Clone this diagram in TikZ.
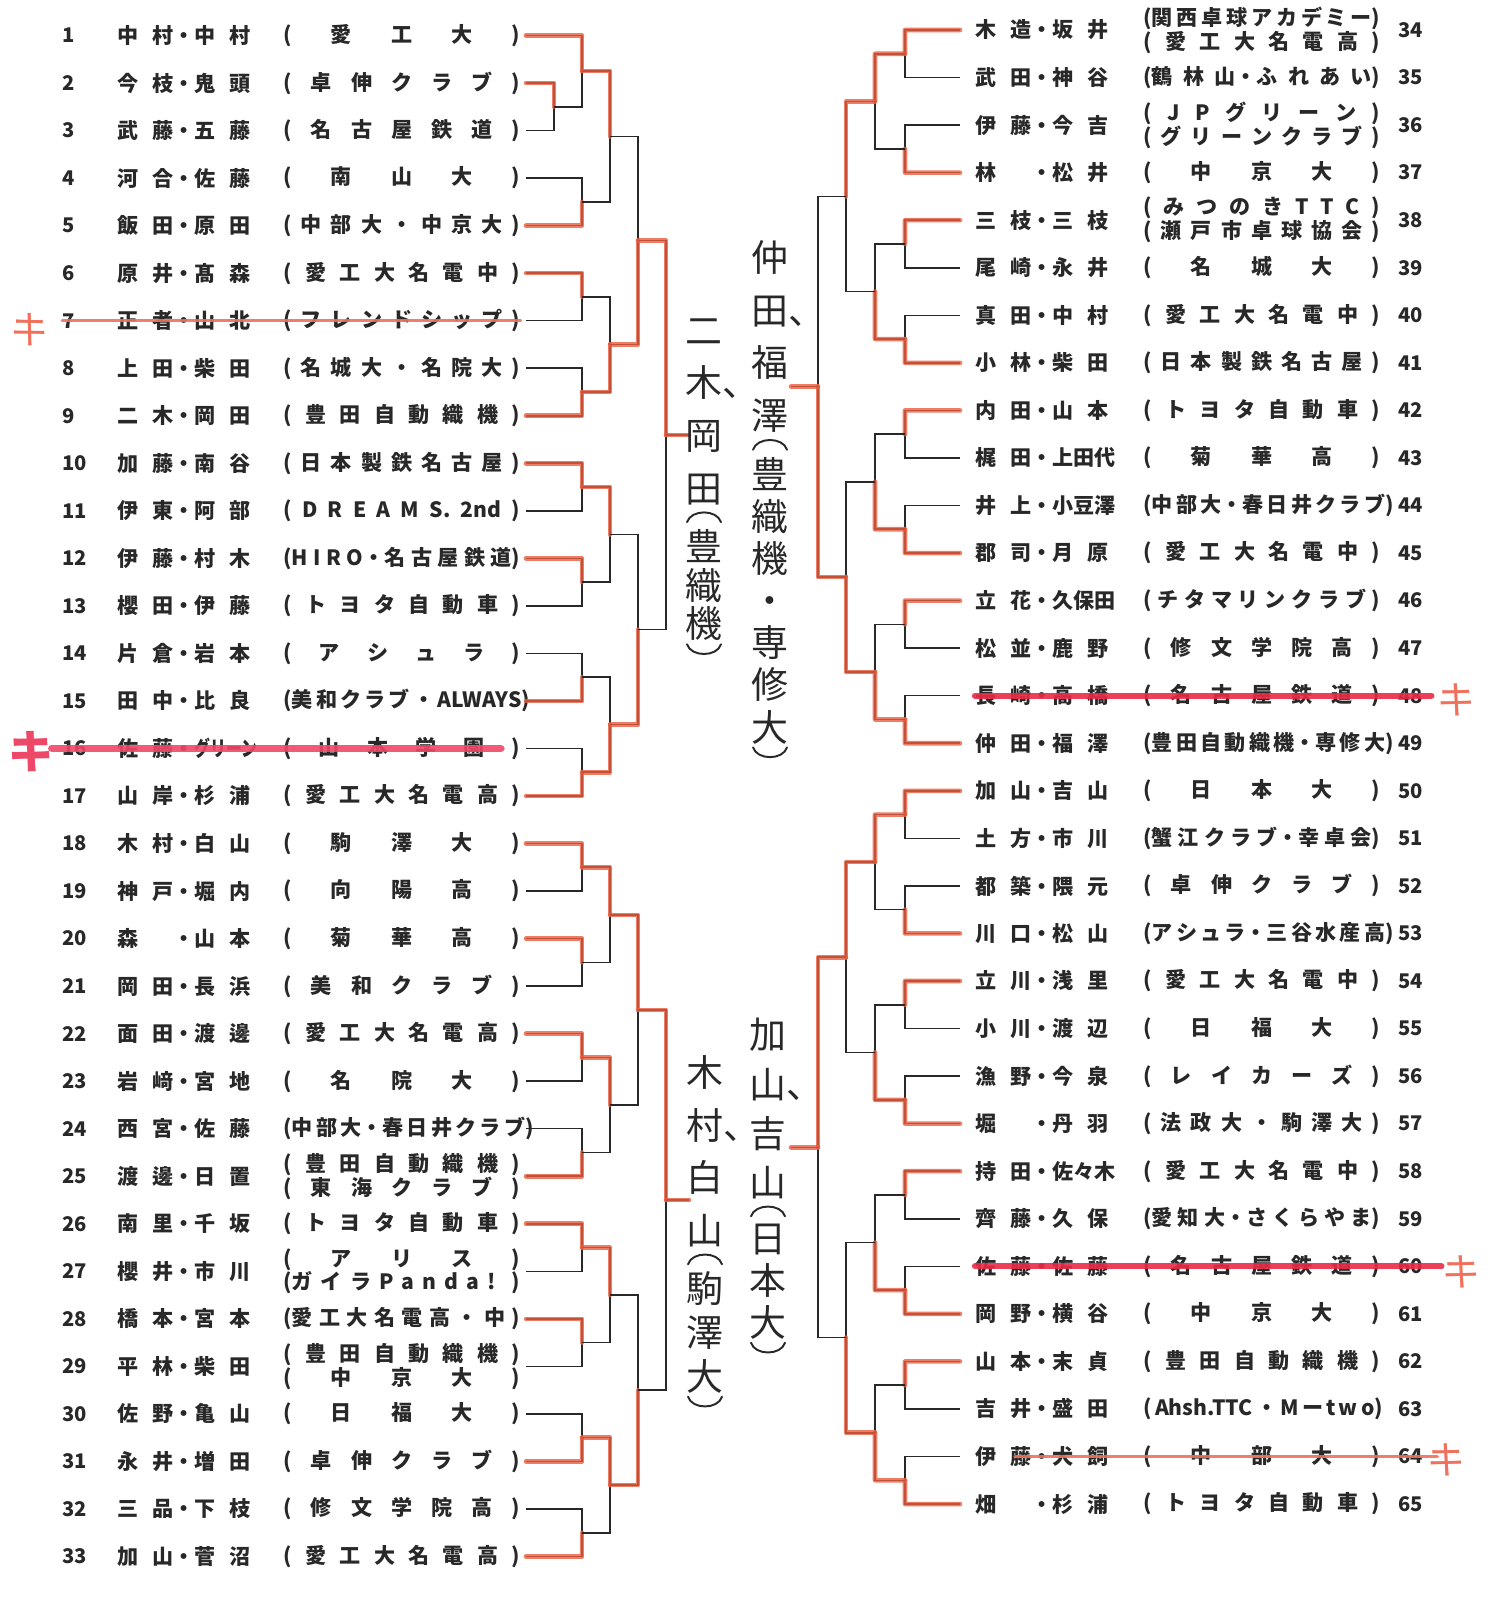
\documentclass[tikz,border=0pt]{standalone}
\usepackage{fontspec}
\setmainfont{Noto Sans CJK JP}
\newfontfamily\handfont{Noto Sans CJK JP}
\usepackage{graphicx}
\usetikzlibrary{calc}
\definecolor{inkGray}{RGB}{40,40,40}
\definecolor{markerRed}{RGB}{232,92,62}
\definecolor{strikeRed}{RGB}{234,42,72}
\definecolor{strikePink}{RGB}{238,72,104}
\definecolor{strikeSalmon}{RGB}{240,112,92}
\newcommand{\duo}[2]{\makebox[1.12cm][s]{#1}・\makebox[1.12cm][s]{#2}}
\newcommand{\club}[1]{\makebox[4.74cm][s]{#1}}
\newcommand{\clubtwo}[2]{\club{#1}\\\club{#2}}
\newcommand{\entryL}[4]{%%
  \pgfmathsetmacro{\ey}{35.5+(#1-1)*47.53}
  \node[numStyle] (num#1) at (62,\ey) {#1};
  \node[nameStyle] (name#1) at (117,\ey) {\duo{#2}{#3}};
  \node[clubStyle] (club#1) at (283,\ey) {#4};
  \coordinate (e#1) at (526,\ey);
}
\newcommand{\entryR}[4]{%%
  \pgfmathsetmacro{\ey}{30+(#1-34)*47.55}
  \node[nameStyle] (name#1) at (975,\ey) {\duo{#2}{#3}};
  \node[clubStyle] (club#1) at (1143,\ey) {#4};
  \node[numStyle] (num#1) at (1398,\ey) {#1};
  \coordinate (e#1) at (960,\ey);
}
\newcommand{\match}[5]{%%
  \draw[lineStyle] (#1) -- (#1 -| #3) -- (#2 -| #3) -- (#2);
  \coordinate (#4) at ($(#1 -| #3)!0.5!(#2 -| #3)$);
  \draw[redStyle] (#5) -- (#5 -| #3) -- (#4);
}
\newcommand{\winner}[7]{%%
  \node[handStyle,anchor=north,font=\handfont\fontsize{21pt}{#6}\selectfont] (#1) at (#2,#3) {#4};
  \node[handStyle,anchor=north,font=\handfont\fontsize{21pt}{#7}\selectfont] (#1club) at ($(#1.south)+(0,24)$) {#5};
  \draw[handLine] ($(#1.south)+(-17,17)$) .. controls +(4,-13) and +(-4,-13) .. ($(#1.south)+(17,17)$);
  \draw[handLine] ($(#1club.south)+(-17,3)$) .. controls +(4,13) and +(-4,13) .. ($(#1club.south)+(17,3)$);
}

\begin{document}
\begin{tikzpicture}[x=0.02cm,y=-0.02cm,
  lineStyle/.style={draw=inkGray,line width=0.9pt},%%
  redStyle/.style={draw=markerRed,line width=2.6pt,opacity=0.8,line cap=round,line join=round},%%
  numStyle/.style={anchor=west,inner sep=0pt,text=inkGray,font=\fontsize{11.5pt}{13pt}\selectfont\bfseries},%%
  nameStyle/.style={anchor=west,inner sep=0pt,text=inkGray,font=\fontsize{12pt}{14pt}\selectfont\bfseries},%%
  clubStyle/.style={anchor=west,inner sep=0pt,align=left,text=inkGray,font=\fontsize{12pt}{13.6pt}\selectfont\bfseries},%%
  handStyle/.style={inner sep=0pt,align=center,text=inkGray},%%
  handLine/.style={draw=inkGray,line width=1.1pt,line cap=round},%%
  strikeStyle/.style={line cap=round,opacity=0.9},%%
  kiStyle/.style={inner sep=0pt,font=\handfont\fontsize{22pt}{24pt}\selectfont}
]
\useasboundingbox (0,0) rectangle (1507,1604);
%%
%% Columns of the bracket.
\coordinate (LP) at (554,0);
\coordinate (LC1) at (582,0);
\coordinate (LC2) at (610,0);
\coordinate (LC3) at (638,0);
\coordinate (LC4) at (666,0);
\coordinate (Lend) at (689,0);
\coordinate (RC1) at (905,0);
\coordinate (RC2) at (875,0);
\coordinate (RC3) at (846,0);
\coordinate (RC4) at (818,0);
\coordinate (Rend) at (791,0);
%%
%% Left half, entries 1 to 33.
\entryL{1}{中 村}{中 村}{\club{( 愛 工 大 )}}
\entryL{2}{今 枝}{鬼 頭}{\club{( 卓 伸 ク ラ ブ )}}
\entryL{3}{武 藤}{五 藤}{\club{( 名 古 屋 鉄 道 )}}
\entryL{4}{河 合}{佐 藤}{\club{( 南 山 大 )}}
\entryL{5}{飯 田}{原 田}{\club{( 中 部 大 ・ 中 京 大 )}}
\entryL{6}{原 井}{髙 森}{\club{( 愛 工 大 名 電 中 )}}
\entryL{7}{正 者}{山 北}{\club{( フ レ ン ド シ ッ プ )}}
\entryL{8}{上 田}{柴 田}{\club{( 名 城 大 ・ 名 院 大 )}}
\entryL{9}{二 木}{岡 田}{\club{( 豊 田 自 動 織 機 )}}
\entryL{10}{加 藤}{南 谷}{\club{( 日 本 製 鉄 名 古 屋 )}}
\entryL{11}{伊 東}{阿 部}{\club{( D R E A M S. 2nd )}}
\entryL{12}{伊 藤}{村 木}{\club{(H I R O・名 古 屋 鉄 道)}}
\entryL{13}{櫻 田}{伊 藤}{\club{( ト ヨ タ 自 動 車 )}}
\entryL{14}{片 倉}{岩 本}{\club{( ア シ ュ ラ )}}
\entryL{15}{田 中}{比 良}{\club{(美 和 ク ラ ブ ・ ALWAYS)}}
\entryL{16}{佐 藤}{\scalebox{0.75}[1]{グリーン}}{\club{( 山 本 学 園 )}}
\entryL{17}{山 岸}{杉 浦}{\club{( 愛 工 大 名 電 高 )}}
\entryL{18}{木 村}{白 山}{\club{( 駒 澤 大 )}}
\entryL{19}{神 戸}{堀 内}{\club{( 向 陽 高 )}}
\entryL{20}{森}{山 本}{\club{( 菊 華 高 )}}
\entryL{21}{岡 田}{長 浜}{\club{( 美 和 ク ラ ブ )}}
\entryL{22}{面 田}{渡 邊}{\club{( 愛 工 大 名 電 高 )}}
\entryL{23}{岩 﨑}{宮 地}{\club{( 名 院 大 )}}
\entryL{24}{西 宮}{佐 藤}{\club{(中 部 大・春 日 井 ク ラ ブ)}}
\entryL{25}{渡 邊}{日 置}{\clubtwo{( 豊 田 自 動 織 機 )}{( 東 海 ク ラ ブ )}}
\entryL{26}{南 里}{千 坂}{\club{( ト ヨ タ 自 動 車 )}}
\entryL{27}{櫻 井}{市 川}{\clubtwo{( ア リ ス )}{(ガ イ ラ P a n d a ! )}}
\entryL{28}{橋 本}{宮 本}{\club{(愛 工 大 名 電 高 ・ 中 )}}
\entryL{29}{平 林}{柴 田}{\clubtwo{( 豊 田 自 動 織 機 )}{( 中 京 大 )}}
\entryL{30}{佐 野}{亀 山}{\club{( 日 福 大 )}}
\entryL{31}{永 井}{増 田}{\club{( 卓 伸 ク ラ ブ )}}
\entryL{32}{三 品}{下 枝}{\club{( 修 文 学 院 高 )}}
\entryL{33}{加 山}{菅 沼}{\club{( 愛 工 大 名 電 高 )}}
%%
%% Right half, entries 34 to 65.
\entryR{34}{木 造}{坂 井}{\clubtwo{(関 西 卓 球 ア カ デ ミ ー)}{( 愛 工 大 名 電 高 )}}
\entryR{35}{武 田}{神 谷}{\club{(鶴 林 山・ふ れ あ い)}}
\entryR{36}{伊 藤}{今 吉}{\clubtwo{( J P グ リ ー ン )}{( グ リ ー ン ク ラ ブ )}}
\entryR{37}{林}{松 井}{\club{( 中 京 大 )}}
\entryR{38}{三 枝}{三 枝}{\clubtwo{( み つ の き T T C )}{( 瀬 戸 市 卓 球 協 会 )}}
\entryR{39}{尾 崎}{永 井}{\club{( 名 城 大 )}}
\entryR{40}{真 田}{中 村}{\club{( 愛 工 大 名 電 中 )}}
\entryR{41}{小 林}{柴 田}{\club{( 日 本 製 鉄 名 古 屋 )}}
\entryR{42}{内 田}{山 本}{\club{( ト ヨ タ 自 動 車 )}}
\entryR{43}{梶 田}{上田代}{\club{( 菊 華 高 )}}
\entryR{44}{井 上}{小豆澤}{\club{(中 部 大・春 日 井 ク ラ ブ)}}
\entryR{45}{郡 司}{月 原}{\club{( 愛 工 大 名 電 中 )}}
\entryR{46}{立 花}{久保田}{\club{( チ タ マ リ ン ク ラ ブ )}}
\entryR{47}{松 並}{鹿 野}{\club{( 修 文 学 院 高 )}}
\entryR{48}{長 崎}{高 橋}{\club{( 名 古 屋 鉄 道 )}}
\entryR{49}{仲 田}{福 澤}{\club{(豊 田 自 動 織 機・専 修 大)}}
\entryR{50}{加 山}{吉 山}{\club{( 日 本 大 )}}
\entryR{51}{土 方}{市 川}{\club{(蟹 江 ク ラ ブ・幸 卓 会)}}
\entryR{52}{都 築}{隈 元}{\club{( 卓 伸 ク ラ ブ )}}
\entryR{53}{川 口}{松 山}{\club{(ア シ ュ ラ・三 谷 水 産 高)}}
\entryR{54}{立 川}{浅 里}{\club{( 愛 工 大 名 電 中 )}}
\entryR{55}{小 川}{渡 辺}{\club{( 日 福 大 )}}
\entryR{56}{漁 野}{今 泉}{\club{( レ イ カ ー ズ )}}
\entryR{57}{堀}{丹 羽}{\club{( 法 政 大 ・ 駒 澤 大 )}}
\entryR{58}{持 田}{佐々木}{\club{( 愛 工 大 名 電 中 )}}
\entryR{59}{齊 藤}{久 保}{\club{(愛 知 大・さ く ら や ま)}}
\entryR{60}{佐 藤}{佐 藤}{\club{( 名 古 屋 鉄 道 )}}
\entryR{61}{岡 野}{横 谷}{\club{( 中 京 大 )}}
\entryR{62}{山 本}{末 貞}{\club{( 豊 田 自 動 織 機 )}}
\entryR{63}{吉 井}{盛 田}{\club{( Ahsh.TTC ・ M ー t w o)}}
\entryR{64}{伊 藤}{犬 飼}{\club{( 中 部 大 )}}
\entryR{65}{畑}{杉 浦}{\club{( ト ヨ タ 自 動 車 )}}
%%
%% Bracket, top left.
\match{e2}{e3}{LP}{p23}{e2}
\match{e1}{p23}{LC1}{a1}{e1}
\match{e4}{e5}{LC1}{a2}{e5}
\match{e6}{e7}{LC1}{a3}{e6}
\match{e8}{e9}{LC1}{a4}{e9}
\match{e10}{e11}{LC1}{a5}{e10}
\match{e12}{e13}{LC1}{a6}{e12}
\match{e14}{e15}{LC1}{a7}{e15}
\match{e16}{e17}{LC1}{a8}{e17}
\match{a1}{a2}{LC2}{b1}{a1}
\match{a3}{a4}{LC2}{b2}{a4}
\match{a5}{a6}{LC2}{b3}{a5}
\match{a7}{a8}{LC2}{b4}{a8}
\match{b1}{b2}{LC3}{c1}{b2}
\match{b3}{b4}{LC3}{c2}{b4}
\match{c1}{c2}{LC4}{d1}{c1}
\draw[lineStyle] (d1) -- (d1 -| Lend);
\draw[redStyle] (d1) -- (d1 -| Lend);
%%
%% Bracket, bottom left.
\match{e18}{e19}{LC1}{a9}{e18}
\match{e20}{e21}{LC1}{a10}{e20}
\match{e22}{e23}{LC1}{a11}{e22}
\match{e24}{e25}{LC1}{a12}{e25}
\match{e26}{e27}{LC1}{a13}{e26}
\match{e28}{e29}{LC1}{a14}{e28}
\match{e30}{e31}{LC1}{a15}{e31}
\match{e32}{e33}{LC1}{a16}{e33}
\match{a9}{a10}{LC2}{b5}{a9}
\match{a11}{a12}{LC2}{b6}{a11}
\match{a13}{a14}{LC2}{b7}{a13}
\match{a15}{a16}{LC2}{b8}{a15}
\match{b5}{b6}{LC3}{c3}{b5}
\match{b7}{b8}{LC3}{c4}{b8}
\match{c3}{c4}{LC4}{d2}{c3}
\draw[lineStyle] (d2) -- (d2 -| Lend);
\draw[redStyle] (d2) -- (d2 -| Lend);
%%
%% Bracket, top right.
\match{e34}{e35}{RC1}{g1}{e34}
\match{e36}{e37}{RC1}{g2}{e37}
\match{e38}{e39}{RC1}{g3}{e38}
\match{e40}{e41}{RC1}{g4}{e41}
\match{e42}{e43}{RC1}{g5}{e42}
\match{e44}{e45}{RC1}{g6}{e45}
\match{e46}{e47}{RC1}{g7}{e46}
\match{e48}{e49}{RC1}{g8}{e49}
\match{g1}{g2}{RC2}{h1}{g1}
\match{g3}{g4}{RC2}{h2}{g4}
\match{g5}{g6}{RC2}{h3}{g6}
\match{g7}{g8}{RC2}{h4}{g8}
\match{h1}{h2}{RC3}{i1}{h1}
\match{h3}{h4}{RC3}{i2}{h4}
\match{i1}{i2}{RC4}{j1}{i2}
\draw[lineStyle] (j1) -- (j1 -| Rend);
\draw[redStyle] (j1) -- (j1 -| Rend);
%%
%% Bracket, bottom right.
\match{e50}{e51}{RC1}{g9}{e50}
\match{e52}{e53}{RC1}{g10}{e53}
\match{e54}{e55}{RC1}{g11}{e54}
\match{e56}{e57}{RC1}{g12}{e57}
\match{e58}{e59}{RC1}{g13}{e58}
\match{e60}{e61}{RC1}{g14}{e61}
\match{e62}{e63}{RC1}{g15}{e62}
\match{e64}{e65}{RC1}{g16}{e65}
\match{g9}{g10}{RC2}{h5}{g9}
\match{g11}{g12}{RC2}{h6}{g12}
\match{g13}{g14}{RC2}{h7}{g14}
\match{g15}{g16}{RC2}{h8}{g16}
\match{h5}{h6}{RC3}{i3}{h5}
\match{h7}{h8}{RC3}{i4}{h8}
\match{i3}{i4}{RC4}{j2}{i3}
\draw[lineStyle] (j2) -- (j2 -| Rend);
\draw[redStyle] (j2) -- (j2 -| Rend);
%%
%% Handwritten winners.
\winner{win1}{704}{318}{二\\木\rlap{、}\\岡\\田}{豊\\織\\機}{30pt}{22pt}
\winner{win2}{770}{240}{仲\\田\rlap{、}\\福\\澤}{豊\\織\\機\\・\\専\\修\\大}{30pt}{24pt}
\winner{win3}{705}{1055}{木\\村\rlap{、}\\白\\山}{駒\\澤\\大}{30pt}{25pt}
\winner{win4}{768}{1018}{加\\山\rlap{、}\\吉\\山}{日\\本\\大}{28pt}{24pt}
%%
%% Withdrawals.
\draw[strikeStyle,draw=strikeSalmon,line width=1.6pt] (num7.west) -- (club7.east);
\draw[strikeStyle,draw=strikePink,line width=4.5pt] ($(num16.west)+(-10,0)$) -- ($(club16.east)+(-20,0)$);
\draw[strikeStyle,draw=strikeRed,line width=3.6pt] (name48.west) -- ($(num48.east)+(8,0)$);
\draw[strikeStyle,draw=strikeRed,line width=3.6pt] (name60.west) -- ($(num60.east)+(18,0)$);
\draw[strikeStyle,draw=strikeSalmon,line width=2pt] ($(name64.west)+(40,0)$) -- ($(num64.east)+(14,0)$);
\node[kiStyle,text=strikeSalmon,rotate=-10] (ki7) at (30,330) {キ};
\node[kiStyle,text=strikePink,rotate=-8,font=\handfont\bfseries\fontsize{26pt}{28pt}\selectfont] (ki16) at (32,752) {キ};
\node[kiStyle,text=strikeSalmon,rotate=-8] (ki48) at (1457,700) {キ};
\node[kiStyle,text=strikeSalmon,rotate=-8] (ki60) at (1462,1272) {キ};
\node[kiStyle,text=strikeSalmon,rotate=-8] (ki64) at (1447,1460) {キ};
\end{tikzpicture}
\end{document}
